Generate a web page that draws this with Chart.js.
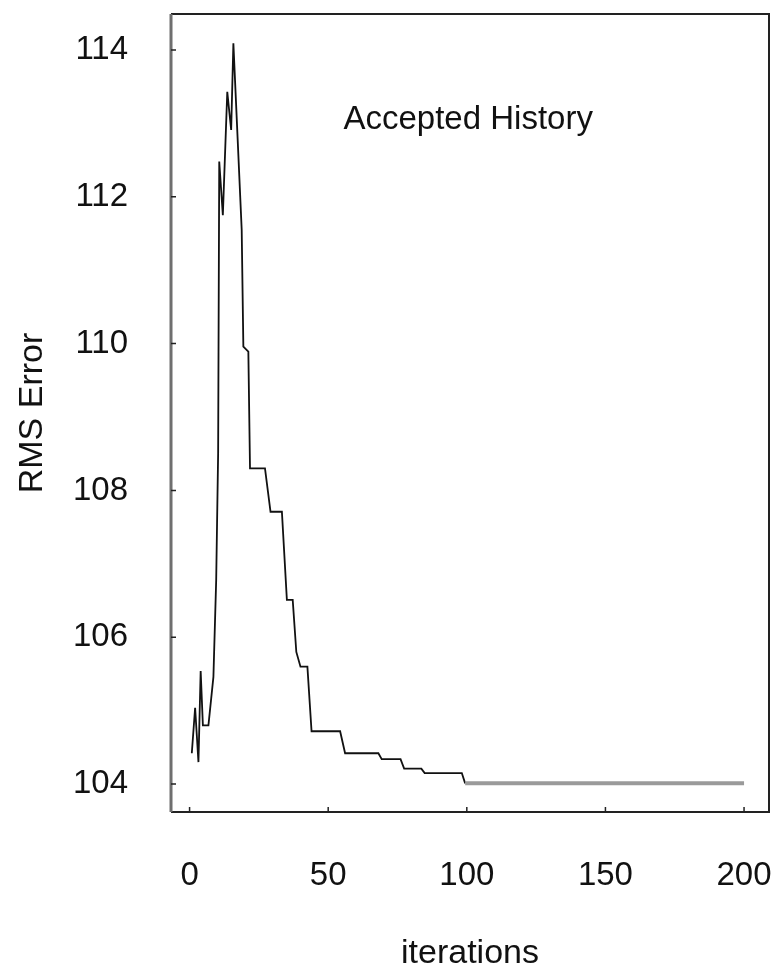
<!DOCTYPE html>
<html>
<head>
<meta charset="utf-8">
<script src="https://cdn.jsdelivr.net/npm/chart.js@4.4.0/dist/chart.umd.min.js"></script>
<style>
  html, body { margin: 0; padding: 0; background: #ffffff; }
</style>
</head>
<body>
<canvas id="rmsChart" width="776" height="974"></canvas>
<script>
// accepted history
const iterations = [0.8, 2.0, 3.2, 4.0, 4.8, 6.8, 8.6, 9.6, 10.3, 10.7, 12.0, 13.6, 15.0, 15.8,
  18.8, 19.4, 21.2, 21.8, 27.2, 29.2, 33.3, 35.1, 37.2, 38.5, 40.0, 42.5, 44.0, 54.3,
  56.1, 68.1, 69.3, 76.1, 77.4, 83.6, 84.8, 98.2, 99.4, 200];
const rmsError = [104.42, 105.04, 104.30, 105.54, 104.80, 104.80, 105.46, 106.78, 108.50, 112.48,
  111.75, 113.43, 112.91, 114.09, 111.55, 109.96, 109.89, 108.30, 108.30, 107.71, 107.71,
  106.51, 106.51, 105.80, 105.60, 105.60, 104.72, 104.72, 104.42, 104.42, 104.34, 104.34,
  104.21, 104.21, 104.15, 104.15, 104.01, 104.01];
const xTickValues = [0, 50, 100, 150, 200];
const yTickValues = [104, 106, 108, 110, 112, 114];
const chartLabel = "Accepted History";

const textColor = "#111111";
const fontFamily = "'Liberation Sans', Arial, sans-serif";

const points = iterations.map((x, i) => ({ x, y: rmsError[i] }));
const lastSegment = points.length - 2;

const framePlugin = {
  id: "frame",
  afterDraw(chart) {
    const { ctx, chartArea } = chart;
    const { left, right, top, bottom } = chartArea;
    const xScale = chart.scales.x;
    const yScale = chart.scales.y;

    ctx.save();
    // box round the plot
    ctx.strokeStyle = "#222222";
    ctx.lineWidth = 2;
    ctx.beginPath();
    ctx.moveTo(left, top);
    ctx.lineTo(right, top);
    ctx.lineTo(right, bottom);
    ctx.lineTo(left, bottom);
    ctx.stroke();
    ctx.strokeStyle = "#6f6f6f";
    ctx.lineWidth = 3;
    ctx.beginPath();
    ctx.moveTo(left, top);
    ctx.lineTo(left, bottom);
    ctx.stroke();

    // small inward ticks
    ctx.strokeStyle = "#222222";
    ctx.lineWidth = 1.5;
    ctx.beginPath();
    xScale.ticks.forEach((t) => {
      const px = xScale.getPixelForValue(t.value);
      ctx.moveTo(px, bottom);
      ctx.lineTo(px, bottom - 5);
    });
    yScale.ticks.forEach((t) => {
      const py = yScale.getPixelForValue(t.value);
      ctx.moveTo(left, py);
      ctx.lineTo(left + 5, py);
    });
    ctx.stroke();

    // in-plot label
    ctx.fillStyle = textColor;
    ctx.font = "33px " + fontFamily;
    ctx.textAlign = "center";
    ctx.textBaseline = "middle";
    ctx.fillText(chartLabel, xScale.getPixelForValue(100.5), yScale.getPixelForValue(113.05));
    ctx.restore();
  }
};

new Chart(document.getElementById("rmsChart"), {
  type: "line",
  data: {
    datasets: [
      {
        label: chartLabel,
        data: points,
        borderColor: "#111111",
        borderWidth: 1.8,
        pointRadius: 0,
        tension: 0,
        fill: false,
        segment: {
          borderColor: (c) => (c.p0DataIndex === lastSegment ? "#9a9a9a" : undefined),
          borderWidth: (c) => (c.p0DataIndex === lastSegment ? 4 : undefined)
        }
      }
    ]
  },
  options: {
    responsive: false,
    animation: false,
    layout: {
      padding: { top: 14, right: 7, left: 0, bottom: 0 }
    },
    plugins: {
      legend: { display: false },
      tooltip: { enabled: false }
    },
    scales: {
      x: {
        type: "linear",
        min: -6.7,
        max: 209,
        afterBuildTicks(scale) {
          scale.ticks = xTickValues.map((value) => ({ value }));
        },
        afterFit(scale) {
          scale.height = 162;
          scale.paddingLeft = 0;
          scale.paddingRight = 0;
        },
        grid: { display: false, drawTicks: false },
        border: { display: false },
        ticks: {
          color: textColor,
          padding: 44,
          maxRotation: 0,
          font: { family: fontFamily, size: 33 }
        },
        title: {
          display: true,
          text: "iterations",
          color: textColor,
          font: { family: fontFamily, size: 34 },
          padding: { top: 0, bottom: 0 }
        }
      },
      y: {
        type: "linear",
        min: 103.62,
        max: 114.49,
        afterBuildTicks(scale) {
          scale.ticks = yTickValues.map((value) => ({ value }));
        },
        afterFit(scale) {
          scale.width = 171;
          scale.paddingTop = 0;
          scale.paddingBottom = 0;
        },
        grid: { display: false, drawTicks: false },
        border: { display: false },
        ticks: {
          color: textColor,
          padding: 43,
          font: { family: fontFamily, size: 33 }
        },
        title: {
          display: true,
          text: "RMS Error",
          color: textColor,
          font: { family: fontFamily, size: 34 },
          padding: { top: 12, bottom: 0 }
        }
      }
    }
  },
  plugins: [framePlugin]
});
</script>
</body>
</html>
